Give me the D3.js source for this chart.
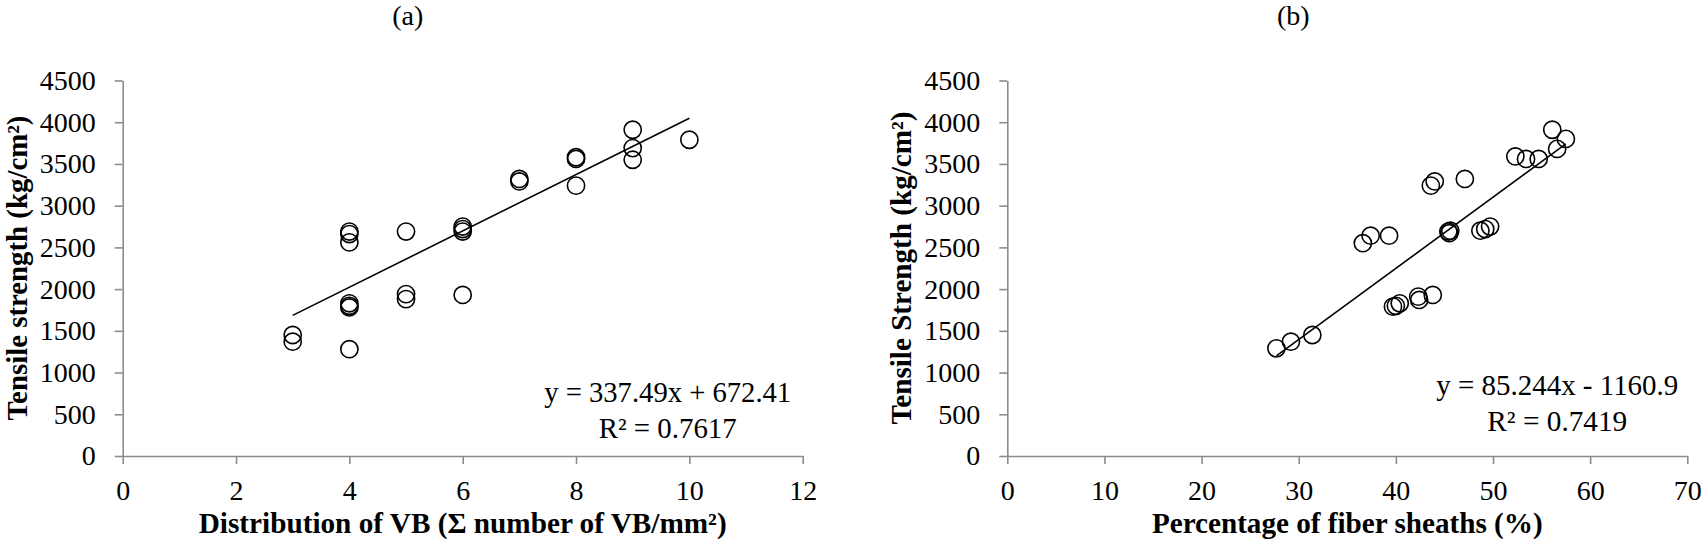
<!DOCTYPE html>
<html>
<head>
<meta charset="utf-8">
<script src="https://cdn.jsdelivr.net/npm/d3@7"></script>
<style>
  body { margin: 0; background: #fff; }
  .axis path, .axis line { stroke: #8c8c8c; stroke-width: 1.6; }
  .pt { fill: none; stroke: #000; stroke-width: 1.6; }
  .trend { fill: none; stroke: #000; stroke-width: 1.6; }
</style>
</head>
<body>
<script>

// (a) distribution of vascular bundles vs tensile strength
var vbCount = [3, 3, 4, 4, 4, 4, 4, 4, 4, 5, 5, 5, 6, 6, 6, 6, 7, 7, 8, 8, 8, 9, 9, 9, 10]
var vbStrength = [1450, 1370, 2690, 2660, 2560, 1830, 1800, 1780, 1280, 2690, 1940, 1880,
  2750, 2720, 2690, 1930, 3320, 3290, 3580, 3560, 3240, 3910, 3690, 3550, 3790]
var vbTicks = [0, 2, 4, 6, 8, 10, 12]

// (b) percentage of fiber sheaths vs tensile strength
var sheathPct = [27.7, 29.2, 31.4, 36.6, 37.4, 39.3, 39.7, 40.0, 40.4, 42.3, 42.4, 43.8,
  43.6, 44.0, 47.1, 45.4, 45.5, 45.6, 48.7, 49.2, 49.7, 52.3, 53.4, 54.7, 56.1, 57.5, 56.6]
var sheathStrength = [1290, 1370, 1450, 2550, 2640, 2640, 1790, 1800, 1830, 1910, 1870, 1930,
  3240, 3290, 3320, 2690, 2670, 2700, 2700, 2720, 2750, 3590, 3560, 3560, 3910, 3800, 3680]
var sheathTicks = [0, 10, 20, 30, 40, 50, 60, 70]

var strengthTicks = [0, 500, 1000, 1500, 2000, 2500, 3000, 3500, 4000, 4500]

var serif = "'Liberation Serif', 'Times New Roman', Times, serif"

var svg = d3.select('body').append('svg')
  .attr('width', 1702).attr('height', 551)
  .style('background', '#fff')
  .style('font-family', serif)

// scale the font so the text spans about the width measured on the original
function fit(t, size, len) {
  t.attr('font-size', size)
  var w = t.node().getComputedTextLength()
  t.attr('font-size', (size * len / w).toFixed(2))
  return t
}

function panel(o) {
  var x = d3.scaleLinear().domain([0, o.xmax]).range([o.left, o.left + 680])
    , y = d3.scaleLinear().domain([0, 4500]).range([456, 80.5])
    , g = svg.append('g')

  g.append('g').attr('class', 'axis')
    .attr('transform', 'translate(0,456)')
    .call(d3.axisBottom(x).tickValues(o.xticks).tickFormat(d3.format('d'))
      .tickSize(8).tickSizeOuter(0).tickPadding(16))
  g.append('g').attr('class', 'axis')
    .attr('transform', 'translate(' + o.left + ',0)')
    .call(d3.axisLeft(y).tickValues(strengthTicks).tickFormat(d3.format('d'))
      .tickSize(8).tickSizeOuter(0).tickPadding(19))
  g.selectAll('.axis').attr('font-family', serif).attr('font-size', 28)
  g.selectAll('.axis text').attr('fill', '#000')

  // fitted line over the range of the data
  var ext = d3.extent(o.xs)
  g.append('path').attr('class', 'trend')
    .attr('d', d3.line()(ext.map(function(v){ return [x(v), y(o.slope * v + o.icpt)] })))

  g.selectAll('circle.pt').data(o.xs).enter().append('circle')
    .attr('class', 'pt')
    .attr('cx', function(d){ return x(d) })
    .attr('cy', function(d, i){ return y(o.ys[i]) })
    .attr('r', 8.6)

  var cx = o.left + o.eqx
  fit(g.append('text').attr('x', cx).attr('y', o.eqy).attr('text-anchor', 'middle')
    .text(o.eq), 29, o.eqw[0])
  fit(g.append('text').attr('x', cx).attr('y', o.eqy + 36).attr('text-anchor', 'middle')
    .text(o.r2), 29, o.eqw[1])

  g.append('text').attr('x', o.left + o.titlex).attr('y', 25).attr('text-anchor', 'middle')
    .attr('font-size', 28).text(o.title)

  fit(g.append('text').attr('x', o.left + 340).attr('y', 533).attr('text-anchor', 'middle')
    .attr('font-weight', 'bold').text(o.xlabel), 29, o.xlw)

  fit(g.append('text')
    .attr('transform', 'translate(' + (o.left - 96) + ',268) rotate(-90)')
    .attr('text-anchor', 'middle')
    .attr('font-weight', 'bold').text(o.ylabel), 29, o.ylw)
}

panel({
  left: 122.7, xmax: 12, xticks: vbTicks, xs: vbCount, ys: vbStrength,
  slope: 337.49, icpt: 672.41,
  eq: 'y = 337.49x + 672.41', r2: 'R² = 0.7617', eqx: 545, eqy: 402, eqw: [247, 138],
  title: '(a)', titlex: 285,
  xlabel: 'Distribution of VB (Σ number of VB/mm²)', xlw: 528,
  ylabel: 'Tensile strength (kg/cm²)', ylw: 305
})

panel({
  left: 1007.3, xmax: 70, xticks: sheathTicks, xs: sheathPct, ys: sheathStrength,
  slope: 85.244, icpt: -1160.9,
  eq: 'y = 85.244x - 1160.9', r2: 'R² = 0.7419', eqx: 550, eqy: 395, eqw: [242, 140],
  title: '(b)', titlex: 286,
  xlabel: 'Percentage of fiber sheaths (%)', xlw: 391,
  ylabel: 'Tensile Strength (kg/cm²)', ylw: 313
})

</script>
</body>
</html>
